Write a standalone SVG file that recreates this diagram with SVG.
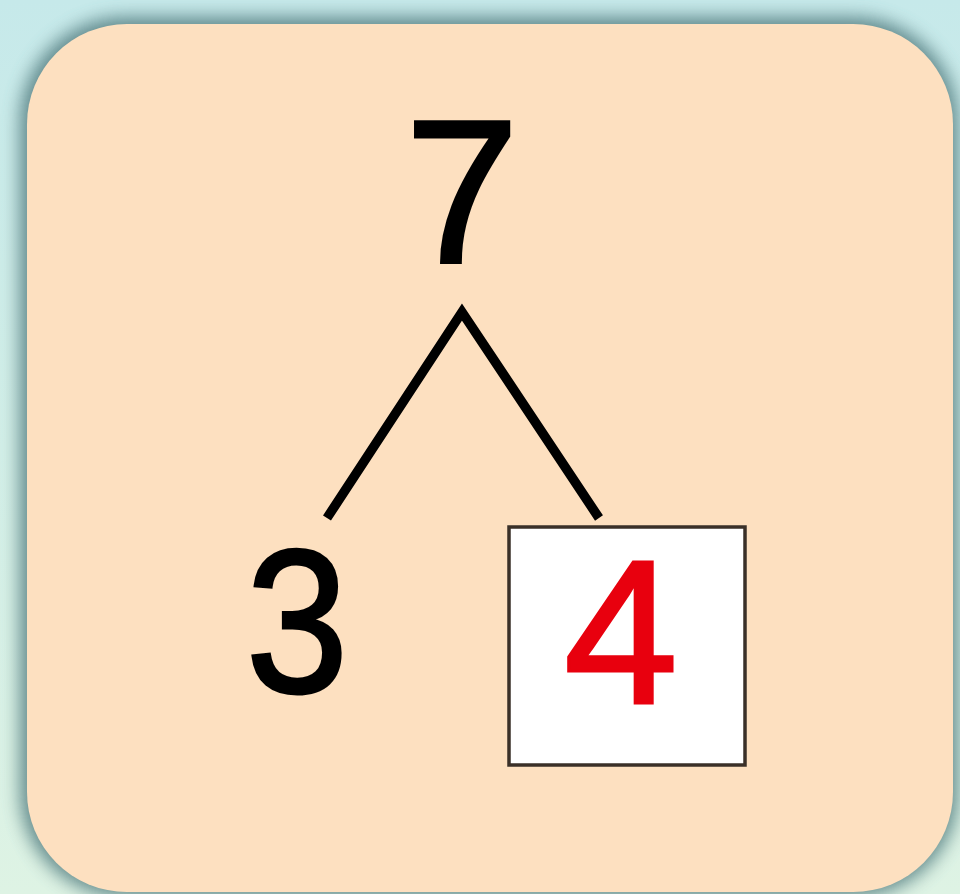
<svg xmlns="http://www.w3.org/2000/svg" width="960" height="894" viewBox="0 0 960 894">
<defs>
<linearGradient id="bg" x1="0" y1="0" x2="0" y2="1">
<stop offset="0" stop-color="#c6e9ea"/>
<stop offset="1" stop-color="#def3e4"/>
</linearGradient>
<filter id="sh" x="-10%" y="-10%" width="120%" height="120%">
<feGaussianBlur stdDeviation="9"/>
</filter>
<style>
.num{font-family:"Liberation Sans",Arial,sans-serif;font-size:205px;text-anchor:middle;stroke-width:3}
.edge{stroke:#000;stroke-width:9.5;fill:none;stroke-linejoin:miter}
</style>
</defs>
<rect width="960" height="894" fill="url(#bg)"/>
<rect x="20" y="17" width="938" height="880" rx="105" fill="#557f82" opacity="0.9" filter="url(#sh)"/>
<g id="panel">
<rect x="27" y="24" width="926" height="868" rx="100" fill="#fde0c0"/>
</g>
<g id="connectors">
<polyline class="edge" points="327,518 462,312 599,518"/>
</g>
<g id="node-7">
<text class="num" x="462" y="262" fill="#000" stroke="#000">7</text>
</g>
<g id="node-3">
<text class="num" transform="translate(297,692) scale(0.9,1)" x="0" y="0" fill="#000" stroke="#000">3</text>
</g>
<g id="node-4">
<rect x="509" y="527" width="236" height="238" fill="#fff" stroke="#3a3028" stroke-width="3.5"/>
<text class="num" x="621" y="703" fill="#e8000e" stroke="#e8000e">4</text>
</g>
</svg>
